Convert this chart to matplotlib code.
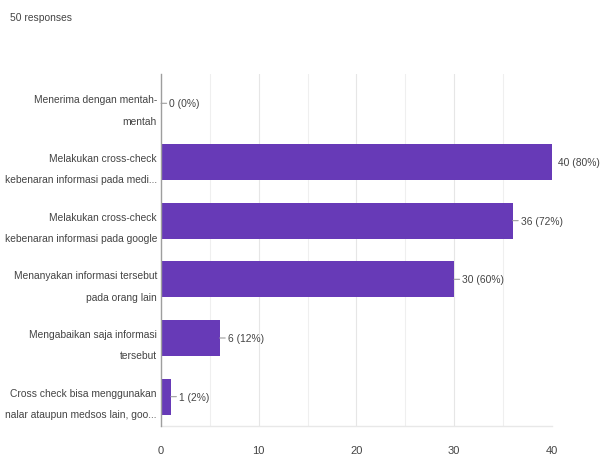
import matplotlib
matplotlib.use("Agg")
import matplotlib.pyplot as plt

categories = [
    "Menerima dengan mentah-\nmentah",
    "Melakukan cross-check\nkebenaran informasi pada medi...",
    "Melakukan cross-check\nkebenaran informasi pada google",
    "Menanyakan informasi tersebut\npada orang lain",
    "Mengabaikan saja informasi\ntersebut",
    "Cross check bisa menggunakan\nnalar ataupun medsos lain, goo...",
]
values = [0, 40, 36, 30, 6, 1]
percents = ["0%", "80%", "72%", "60%", "12%", "2%"]
xticks = [0, 10, 20, 30, 40]
total_text = "50 responses"

plt.rcParams["font.family"] = ["Liberation Sans", "DejaVu Sans"]
FS = 7.4
TXT = "#444444"

fig = plt.figure(figsize=(6.01, 4.56), dpi=100)
ax = fig.add_axes([0.268, 0.0636, 0.650, 0.772])

bar_color = "#673ab7"
y = list(range(len(categories)))
ax.barh(y, values, height=0.61, color=bar_color, zorder=3)
ax.set_ylim(len(categories) - 0.5, -0.5)
ax.set_xlim(0, 40)

for xv in range(5, 40, 5):
    ax.axvline(xv, color="#efefef" if xv % 10 else "#e6e6e6", lw=0.8, zorder=1)

ax.set_xticks(xticks)
ax.set_xticklabels([str(t) for t in xticks], fontsize=FS + 0.6, color=TXT)
ax.set_yticks(y)
ax.set_yticklabels(categories, fontsize=FS, color=TXT, linespacing=2.4)
ax.tick_params(axis="both", length=0)
ax.tick_params(axis="x", pad=14)
ax.tick_params(axis="y", pad=3)

for s in ["top", "right"]:
    ax.spines[s].set_visible(False)
ax.spines["left"].set_color("#9e9e9e")
ax.spines["left"].set_linewidth(1.0)
ax.spines["left"].set_zorder(4)
ax.spines["bottom"].set_color("#e8e8e8")
ax.spines["bottom"].set_linewidth(1.0)

for yi, (v, p) in enumerate(zip(values, percents)):
    if v >= 40:
        ax.annotate(f"{v} ({p})", xy=(v, yi), xytext=(4.5, 0), textcoords="offset points",
                    va="center", ha="left", fontsize=FS, color=TXT, annotation_clip=False)
    else:
        ax.annotate(f"{v} ({p})", xy=(v, yi), xytext=(6, 0), textcoords="offset points",
                    va="center", ha="left", fontsize=FS, color=TXT,
                    arrowprops=dict(arrowstyle="-", color="#9e9e9e", lw=0.8,
                                    shrinkA=0, shrinkB=0),
                    annotation_clip=False)

fig.text(10 / 601, 1 - 18 / 456, total_text, fontsize=FS, color=TXT,
         ha="left", va="center")

fig.savefig("out.png", dpi=100)
